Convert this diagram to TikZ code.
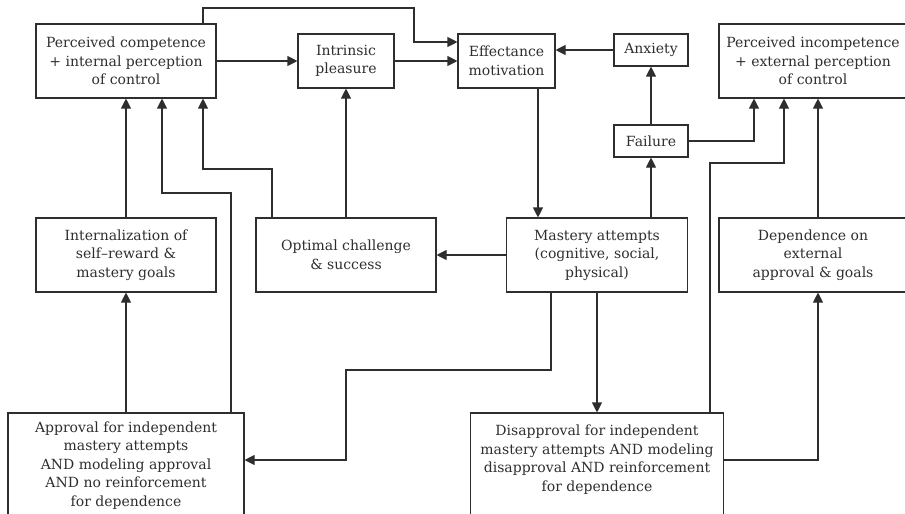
\documentclass[tikz,border=0pt]{standalone}
\usepackage{fontspec}
\setmainfont{DejaVu Serif}
\usetikzlibrary{arrows.meta}
\definecolor{ink}{HTML}{2E2E2E}
\begin{document}
\begin{tikzpicture}[x=1pt,y=-1pt,
  every node/.style={font=\fontsize{14}{18.5}\selectfont, text=ink},
  box/.style={draw=ink, line width=1.1pt, rectangle, inner sep=0pt, align=center},
  words/.style={inner sep=0pt, align=center, anchor=north},
  arr/.style={draw=ink, line width=1.1pt, -{Triangle[length=10pt,width=10pt]}}]
\useasboundingbox (0,0) rectangle (905,514);
\clip (0,0) rectangle (905,514);

% top row
\node[box, minimum width=180pt, minimum height=74pt] (pc) at (126,61)
  {Perceived competence\\+ internal perception\\of control};
\node[box, minimum width=96pt, minimum height=54pt] (ip) at (346,61)
  {Intrinsic\\pleasure};
\node[box, minimum width=97pt, minimum height=54pt] (em) at (506.5,61)
  {Effectance\\motivation};
\node[box, minimum width=74pt, minimum height=32pt] (anx) at (651,50) {Anxiety};
\node[box, minimum width=188pt, minimum height=74pt] (pi) at (813,61)
  {Perceived incompetence\\+ external perception\\of control};
\node[box, minimum width=74pt, minimum height=32pt] (fail) at (651,141) {Failure};

% middle row
\node[box, minimum width=180pt, minimum height=74pt] (int) at (126,255)
  {Internalization of\\self--reward \&\\mastery goals};
\node[box, minimum width=180pt, minimum height=74pt] (opt) at (346,255)
  {Optimal challenge\\\& success};
\node[box, minimum width=181pt, minimum height=74pt] (mast) at (597,255)
  {Mastery attempts\\(cognitive, social,\\physical)};
\node[box, minimum width=188pt, minimum height=74pt] (dep) at (813,255)
  {Dependence on\\external\\approval \& goals};

% bottom row (boxes run past the lower edge)
\node[box, minimum width=236pt, minimum height=127pt] (app) at (126,476.5) {};
\node[words] (apptext) at (126,421.5)
  {Approval for independent\\mastery attempts\\AND modeling approval\\AND no reinforcement\\for dependence};
\node[box, minimum width=253pt, minimum height=127pt] (dis) at (597,476.5) {};
\node[words] (distext) at (597,425)
  {Disapproval for independent\\mastery attempts AND modeling\\disapproval AND reinforcement\\for dependence};

% connectors
\draw[arr] ([xshift=77pt]pc.north) |- (414,8) |- ([yshift=19pt]em.west);
\draw[arr] (pc.east) -- (ip.west);
\draw[arr] (ip.east) -- (em.west);
\draw[arr] (anx.west) -- (em.east |- anx.west);
\draw[arr] (fail.north) -- (anx.south);
\draw[arr] (fail.east) -| ([xshift=-59pt]pi.south);
\draw[arr] ([xshift=31.5pt]em.south) -- ([xshift=31.5pt]em.south |- mast.north);
\draw[arr] (mast.north -| fail.north) -- (fail.south);
\draw[arr] (mast.west) -- (opt.east);
\draw[arr] ([xshift=-74pt]opt.north) |- (203,169) -- ([xshift=77pt]pc.south);
\draw[arr] (opt.north) -- (ip.south);
\draw[arr] (int.north) -- (pc.south);
\draw[arr] ([xshift=105pt]app.north) |- (162,193) -- ([xshift=36pt]pc.south);
\draw[arr] (app.north) -- (int.south);
\draw[arr] ([xshift=-46pt]mast.south) |- (346,370) |- ([yshift=16.5pt]app.east);
\draw[arr] (mast.south) -- (dis.north);
\draw[arr] ([xshift=113pt]dis.north) |- (784,163) -- ([xshift=-29pt]pi.south);
\draw[arr] ([yshift=16.5pt]dis.east) -| ([xshift=5pt]dep.south);
\draw[arr] ([xshift=5pt]dep.north) -- ([xshift=5pt]pi.south);
\end{tikzpicture}
\end{document}
